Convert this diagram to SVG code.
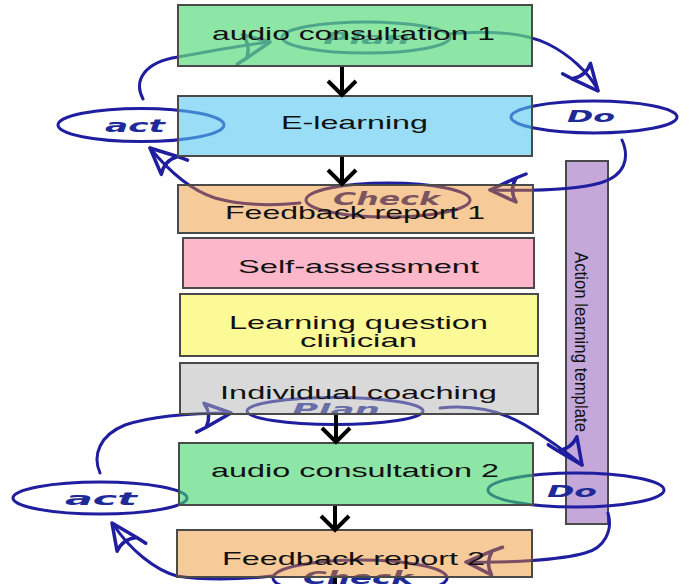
<svg xmlns="http://www.w3.org/2000/svg" width="689" height="584" viewBox="0 0 689 584">
<style>
.box{stroke:#4a4a4a;stroke-width:2}
.t{font-family:"Liberation Sans",Arial,sans-serif;font-size:19px;fill:#111}
.hw{fill:none;stroke:#1e1e9e;stroke-width:3;stroke-linecap:round;stroke-linejoin:round}
.lab{font-family:"DejaVu Sans",sans-serif;font-weight:bold;font-style:italic;fill:#1e2a98}
.ah{fill:none;stroke:#1e1e9e;stroke-width:3.5;stroke-linecap:round;stroke-linejoin:round}
.con{fill:none;stroke:#000;stroke-width:4;stroke-linecap:butt}
</style>
<defs>
<path id="ahd" d="M0,0 L-26,-12 Q-19,0 -26,12 Z M-26,12 L-36,16"/>
</defs>
<rect width="689" height="584" fill="#fff"/>

<g id="n9">
<rect class="box" x="566" y="161" width="42" height="363" fill="#c4a8da"/>
<text class="t" font-size="21" transform="translate(575,252) rotate(90)" textLength="180" lengthAdjust="spacingAndGlyphs">Action learning template</text>
</g>

<g id="pdca">
<ellipse class="hw" cx="366" cy="37.5" rx="84" ry="15.5"/>
<ellipse class="hw" cx="594" cy="117" rx="83" ry="16"/>
<ellipse class="hw" cx="388" cy="200" rx="82" ry="17"/>
<ellipse class="hw" cx="141" cy="125" rx="83" ry="16.5"/>
<path class="hw" d="M143,99 C133,80 145,62 178,57 C210,51 245,45 268,42"/>
<path class="hw" d="M448,34 C490,30 525,33 548,44 C570,55 588,72 598,90"/>
<path class="hw" d="M622,140 C630,158 625,176 600,183 C575,190 530,191 490,190"/>
<path class="hw" d="M300,203 C270,206 240,205 215,198 C190,190 168,170 150,148"/>
<use href="#ahd" class="ah" transform="translate(270,42) rotate(-10)"/>
<use href="#ahd" class="ah" transform="translate(598,91) rotate(50)"/>
<use href="#ahd" class="ah" transform="translate(490,190) rotate(180)"/>
<use href="#ahd" class="ah" transform="translate(150,148) rotate(-138)"/>
<text class="lab" x="323" y="44" font-size="16" textLength="87" lengthAdjust="spacingAndGlyphs">Plan</text>
<text class="lab" x="567" y="122" font-size="15" textLength="48" lengthAdjust="spacingAndGlyphs">Do</text>
<text class="lab" x="333" y="205" font-size="17" textLength="107" lengthAdjust="spacingAndGlyphs">Check</text>
<text class="lab" x="105" y="132" font-size="17" textLength="60" lengthAdjust="spacingAndGlyphs">act</text>

<ellipse class="hw" cx="335" cy="411" rx="88" ry="13.5"/>
<ellipse class="hw" cx="576" cy="490" rx="88" ry="17"/>
<ellipse class="hw" cx="360" cy="578" rx="87" ry="18"/>
<ellipse class="hw" cx="100" cy="498" rx="87" ry="16"/>
<path class="hw" d="M100,473 C92,455 100,435 125,425 C155,415 195,413 231,413"/>
<path class="hw" d="M440,408 C470,405 500,410 525,425 C550,440 570,455 582,465"/>
<path class="hw" d="M608,513 C613,530 605,548 585,553 C560,560 510,563 466,562"/>
<path class="hw" d="M272,576 C237,580 200,580 177,576 C155,570 130,550 113,524"/>
<use href="#ahd" class="ah" transform="translate(231,413) rotate(-5)"/>
<use href="#ahd" class="ah" transform="translate(582,465) rotate(55)"/>
<use href="#ahd" class="ah" transform="translate(466,562) rotate(182)"/>
<use href="#ahd" class="ah" transform="translate(112,523) rotate(-125)"/>
<text class="lab" x="292" y="415" font-size="16" textLength="88" lengthAdjust="spacingAndGlyphs">Plan</text>
<text class="lab" x="547" y="497" font-size="15" textLength="50" lengthAdjust="spacingAndGlyphs">Do</text>
<text class="lab" x="303" y="584" font-size="17" textLength="110" lengthAdjust="spacingAndGlyphs">Check</text>
<text class="lab" x="65" y="505" font-size="17" textLength="72" lengthAdjust="spacingAndGlyphs">act</text>
</g>

<g id="n1">
<rect class="box" x="178" y="5" width="354" height="61" fill="#62dc83" fill-opacity="0.72"/>
<text class="t" x="212" y="40" textLength="283" lengthAdjust="spacingAndGlyphs">audio consultation 1</text>
</g>
<g id="n2">
<rect class="box" x="178" y="96" width="354" height="60" fill="#55c6f2" fill-opacity="0.6"/>
<text class="t" x="281" y="129" textLength="147" lengthAdjust="spacingAndGlyphs">E-learning</text>
</g>
<g id="n3">
<rect class="box" x="178" y="185" width="355" height="48" fill="#eb891c" fill-opacity="0.45"/>
<text class="t" x="225" y="219" textLength="260" lengthAdjust="spacingAndGlyphs">Feedback report 1</text>
</g>
<g id="n4">
<rect class="box" x="183" y="238" width="351" height="50" fill="#fcb8ca"/>
<text class="t" x="238" y="273" textLength="241" lengthAdjust="spacingAndGlyphs">Self-assessment</text>
</g>
<g id="n5">
<rect class="box" x="180" y="294" width="358" height="62" fill="#fcfa96"/>
<text class="t" x="229" y="329" textLength="259" lengthAdjust="spacingAndGlyphs">Learning question</text>
<text class="t" x="300" y="347" textLength="117" lengthAdjust="spacingAndGlyphs">clinician</text>
</g>
<g id="n6">
<rect class="box" x="180" y="363" width="358" height="51" fill="#b3b3b3" fill-opacity="0.5"/>
<text class="t" x="220" y="399" textLength="277" lengthAdjust="spacingAndGlyphs">Individual coaching</text>
</g>
<g id="n7">
<rect class="box" x="179" y="443" width="354" height="62" fill="#43d56b" fill-opacity="0.6"/>
<text class="t" x="211" y="477" textLength="288" lengthAdjust="spacingAndGlyphs">audio consultation 2</text>
</g>
<g id="n8">
<rect class="box" x="177" y="530" width="355" height="47" fill="#eb891c" fill-opacity="0.45"/>
<text class="t" x="222" y="565" textLength="263" lengthAdjust="spacingAndGlyphs">Feedback report 2</text>
</g>

<g id="connectors">
<path class="con" d="M342,67 V94 M328,81 L342,95 L356,81"/>
<path class="con" d="M342,157 V183 M328,170 L342,184 L356,170"/>
<path class="con" d="M336,415 V441 M322,428 L336,442 L350,428"/>
<path class="con" d="M335,506 V529 M321,516 L335,530 L349,516"/>
<path class="con" d="M335,578 V590"/>
</g>
</svg>
